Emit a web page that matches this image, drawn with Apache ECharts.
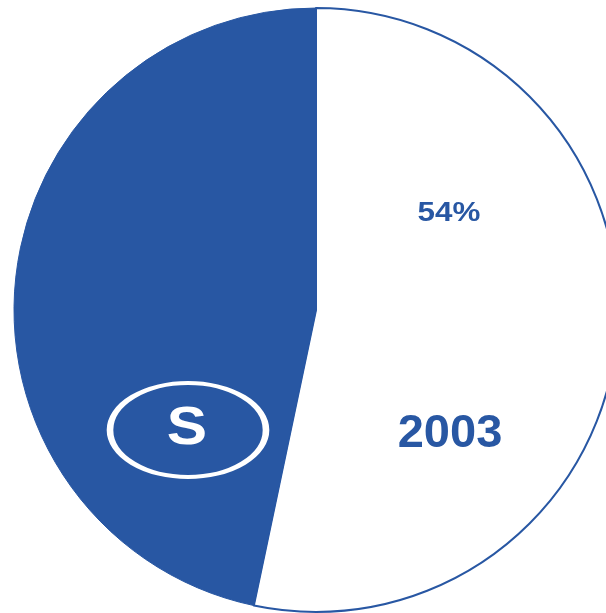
<!DOCTYPE html>
<html>
<head>
<meta charset="utf-8">
<script src="https://cdn.jsdelivr.net/npm/echarts@6/dist/echarts.min.js"></script>
<style>html,body{margin:0;padding:0;background:#fff}#c{width:606px;height:613px}</style>
</head>
<body>
<div id="c"></div>
<script>
const categories = ['Other', 'S'];
const values = [53.3, 46.7];
const shareLabel = '54%';
const yearLabel = '2003';
const seriesLetter = 'S';
const BLUE = '#2857a3';

const chart = echarts.init(document.getElementById('c'));
chart.setOption({
  animation: false,
  backgroundColor: '#ffffff',
  series: [{
    type: 'pie',
    z: 1,
    center: [316, 310],
    radius: 302,
    startAngle: 90,
    clockwise: true,
    label: { show: false },
    labelLine: { show: false },
    emphasis: { disabled: true },
    data: categories.map((c, i) => ({
      name: c,
      value: values[i],
      itemStyle: i === 0
        ? { color: '#ffffff', borderColor: BLUE, borderWidth: 2 }
        : { color: BLUE, borderColor: BLUE, borderWidth: 1 }
    }))
  }],
  graphic: {
    elements: [
      { type: 'text', z: 100, x: 449, y: 213, scaleX: 1.12, style: { text: shareLabel, fill: BLUE, font: 'bold 28px "Liberation Sans", Arial, sans-serif', align: 'center', verticalAlign: 'middle' } },
      { type: 'text', z: 100, x: 450, y: 434, style: { text: yearLabel, fill: BLUE, font: 'bold 47px "Liberation Sans", Arial, sans-serif', align: 'center', verticalAlign: 'middle' } },
      { type: 'circle', z: 100, x: 188, y: 430, scaleX: 78 / 47, scaleY: 1, shape: { cx: 0, cy: 0, r: 47 }, style: { fill: 'none', stroke: '#ffffff', lineWidth: 4, strokeNoScale: true } },
      { type: 'text', z: 100, x: 187, y: 429, scaleX: 1.12, style: { text: seriesLetter, fill: '#ffffff', font: 'bold 54px "Liberation Sans", Arial, sans-serif', align: 'center', verticalAlign: 'middle' } }
    ]
  }
});
</script>
</body>
</html>
